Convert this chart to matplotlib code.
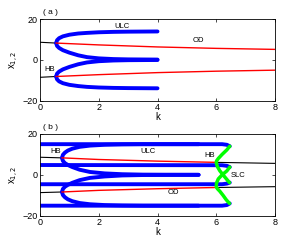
import numpy as np
import matplotlib as mpl
mpl.use("Agg")
import matplotlib.pyplot as plt

mpl.rcParams['font.family'] = ['Liberation Sans', 'DejaVu Sans']
mpl.rcParams['font.size'] = 6
mpl.rcParams['xtick.direction'] = 'in'
mpl.rcParams['ytick.direction'] = 'in'

# ---------------- panel (a) ----------------
a_blk_k = [0.0, 0.55]
a_blk_up = [8.6, 8.2]
a_blk_lo = [-8.6, -8.2]

a_red_k = [0.55, 2.0, 4.0, 6.0, 8.0]
a_red_up = [8.2, 7.3, 6.3, 5.6, 5.1]
a_red_lo = [-8.2, -7.3, -6.3, -5.6, -5.1]

# Hopf branches (k, x)
a_ulc_k = [0.55, 0.58, 0.65, 0.78, 1.0, 1.3, 1.6, 2.0, 2.5, 3.0, 4.0]
a_ulc_top = [8.2, 9.6, 10.6, 11.5, 12.3, 12.9, 13.2, 13.5, 13.7, 13.8, 13.9]
a_ulc_mid1 = [8.2, 6.8, 5.8, 4.7, 3.5, 2.2, 1.3, 0.7, 0.35, 0.2, 0.1]
a_ulc_mid2 = [-8.2, -6.8, -5.8, -4.7, -3.5, -2.2, -1.3, -0.7, -0.35, -0.2, -0.1]
a_ulc_bot = [-8.2, -9.6, -10.6, -11.5, -12.3, -12.9, -13.3, -13.6, -13.8, -13.9, -14.0]

# ---------------- panel (b) ----------------
b_blk1_k = [0.0, 0.75]
b_blk1_up = [8.6, 8.3]
b_blk1_lo = [-8.7, -8.4]
b_blk2_k = [6.0, 8.0]
b_blk2_up = [6.1, 5.6]
b_blk2_lo = [-6.2, -5.8]

b_red_k = [0.75, 2.0, 4.0, 6.0]
b_red_up = [8.3, 7.5, 6.7, 6.1]
b_red_lo = [-8.4, -7.6, -6.8, -6.2]

b_ulc_k = [0.75, 0.78, 0.85, 0.95, 1.1, 1.35, 1.7, 2.2, 2.8, 3.5, 5.4]
b_ulc_top = [8.3, 9.8, 10.9, 11.9, 12.8, 13.7, 14.3, 14.7, 14.9, 15.0, 15.0]
b_ulc_mid1 = [8.3, 6.8, 5.7, 4.8, 3.8, 2.5, 1.4, 0.7, 0.3, 0.1, 0.0]
b_ulc_mid2 = [-8.4, -6.9, -5.8, -4.9, -3.9, -2.6, -1.5, -0.8, -0.3, -0.1, 0.0]
b_ulc_bot = [-8.4, -9.9, -11.0, -12.0, -12.9, -13.8, -14.4, -14.8, -15.0, -15.1, -15.1]

# long limit cycle branches ending on the SLC curve
b_lc_k = [0.0, 6.2, 6.36, 6.46]
b_lc_1 = [15.0, 15.0, 14.7, 14.0]
b_lc_2 = [4.8, 4.7, 4.4, 3.8]
b_lc_3 = [-4.6, -4.6, -4.3, -3.8]
b_lc_4 = [-15.1, -15.1, -14.8, -14.0]

b_slc_k = [6.46, 6.36, 6.2, 6.07, 6.01, 6.0, 6.04, 6.12, 6.23, 6.34, 6.45]
b_slc_1 = [14.0, 12.2, 10.0, 8.0, 6.8, 5.9, 4.0, 2.0, 0.0, -1.9, -3.8]
b_slc_2 = [3.8, 1.9, 0.0, -2.0, -4.0, -5.9, -6.8, -8.0, -10.0, -12.2, -14.0]

fig = plt.figure(figsize=(3.04, 2.44), dpi=100)
ax1 = fig.add_axes([0.1316, 0.588, 0.773, 0.334])
ax2 = fig.add_axes([0.1316, 0.116, 0.773, 0.335])

BLUE = (0, 0, 1)
RED = (1, 0, 0)
GREEN = (0, 1, 0)

# (a)
ax1.plot(a_blk_k, a_blk_up, 'k', lw=0.8)
ax1.plot(a_blk_k, a_blk_lo, 'k', lw=0.8)
for yy in [a_ulc_top, a_ulc_mid1, a_ulc_mid2, a_ulc_bot]:
    ax1.plot(a_ulc_k, yy, color=BLUE, lw=2.8, solid_capstyle='round')
ax1.plot(a_red_k, a_red_up, color=RED, lw=1.0)
ax1.plot(a_red_k, a_red_lo, color=RED, lw=1.0)
ax1.text(2.8, 16.2, 'ULC', ha='center', va='center', fontsize=5.5)
ax1.text(5.4, 9.3, 'OD', ha='center', va='center', fontsize=5.5)
ax1.text(0.34, -4.8, 'HB', ha='center', va='center', fontsize=5.5)
ax1.text(0.1, 21.3, '( a )', ha='left', va='bottom', fontsize=6)

# (b)
ax2.plot(b_blk1_k, b_blk1_up, 'k', lw=0.8)
ax2.plot(b_blk1_k, b_blk1_lo, 'k', lw=0.8)
ax2.plot(b_blk2_k, b_blk2_up, 'k', lw=0.8)
ax2.plot(b_blk2_k, b_blk2_lo, 'k', lw=0.8)
for yy in [b_lc_1, b_lc_2, b_lc_3, b_lc_4]:
    ax2.plot(b_lc_k, yy, color=BLUE, lw=2.8, solid_capstyle='round')
for yy in [b_ulc_top, b_ulc_mid1, b_ulc_mid2, b_ulc_bot]:
    ax2.plot(b_ulc_k, yy, color=BLUE, lw=2.8, solid_capstyle='round')
ax2.plot(b_red_k, b_red_up, color=RED, lw=1.0)
ax2.plot(b_red_k, b_red_lo, color=RED, lw=1.0)
ax2.plot(b_slc_k, b_slc_1, color=GREEN, lw=2.5, solid_capstyle='round')
ax2.plot(b_slc_k, b_slc_2, color=GREEN, lw=2.5, solid_capstyle='round')
ax2.text(0.54, 11.4, 'HB', ha='center', va='center', fontsize=5.5)
ax2.text(3.68, 11.4, 'ULC', ha='center', va='center', fontsize=5.5)
ax2.text(5.76, 9.4, 'HB', ha='center', va='center', fontsize=5.5)
ax2.text(6.74, -0.5, 'SLC', ha='center', va='center', fontsize=5.5)
ax2.text(4.53, -8.7, 'OD', ha='center', va='center', fontsize=5.5)
ax2.text(0.1, 21.3, '( b )', ha='left', va='bottom', fontsize=6)

for ax in [ax1, ax2]:
    ax.set_xlim(0, 8)
    ax.set_ylim(-20, 20)
    ax.set_xticks([0, 2, 4, 6, 8])
    ax.set_yticks([-20, 0, 20])
    ax.set_yticklabels(['\u221220', '0', '20'])
    ax.tick_params(top=True, right=True, length=2, width=0.5, pad=1.5, labelsize=6.5)
    for s in ax.spines.values():
        s.set_linewidth(0.6)
    ax.set_xlabel('k', fontsize=7, labelpad=0.5)
    ax.set_ylabel('x$_{1,2}$', fontsize=7, labelpad=1.5)

fig.savefig('out.png', dpi=100)
